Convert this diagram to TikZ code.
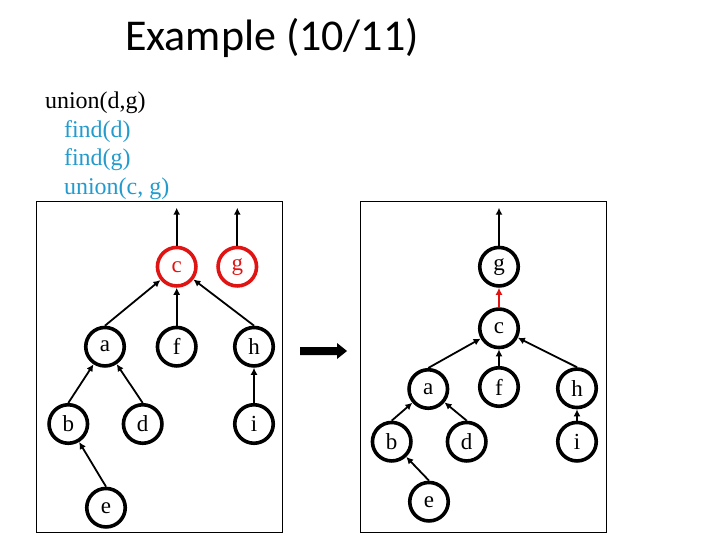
\documentclass[tikz,border=0pt]{standalone}
\usepackage{fontspec}
\setmainfont{Liberation Serif}
\newfontfamily\titlefont{Carlito}
\usetikzlibrary{arrows.meta}
\definecolor{opblue}{RGB}{35,155,205}
\definecolor{rootred}{RGB}{225,20,20}
\begin{document}
\begin{tikzpicture}[x=1pt,y=-1pt,
 vnode/.style={circle,draw=black,line width=3.6pt,fill=white,minimum size=38.5pt,inner sep=0pt,font=\fontsize{23}{26}\selectfont},
 rootnode/.style={vnode,draw=rootred,text=rootred},
 link/.style={line width=1.8pt,-{Latex[length=7pt,width=7pt]}},
 redlink/.style={link,draw=rootred},
 panel/.style={draw=black,line width=0.9pt},
 optext/.style={anchor=base west,font=\fontsize{24}{28}\selectfont}]
\useasboundingbox (0,0) rectangle (720,540);
% title
\node[font=\titlefont\fontsize{44}{50}\selectfont] (title) at (272,38) {Example (10/11)};
% operations
\node[optext] (l1) at (41.5,109) {union(d,g)};
\node[optext,text=opblue] (l2) at (60.5,137.5) {find(d)};
\node[optext,text=opblue] (l3) at (60.5,166) {find(g)};
\node[optext,text=opblue] (l4) at (60.5,194.5) {union(c, g)};
% panels
\draw[panel] (36.7,201) rectangle (282,532);
\draw[panel] (360,201) rectangle (606,532);
% big arrow
\fill (300,347) -- (337,347) -- (337,343) -- (347,351) -- (337,359) -- (337,355) -- (300,355) -- cycle;
% left forest
\node[rootnode] (lc) at (176.7,266.7) {c};
\node[rootnode] (lg) at (237.3,266.7) {g};
\node[vnode] (la) at (105,346.7) {a};
\node[vnode] (lf) at (176.7,346.7) {f};
\node[vnode] (lh) at (254,346.7) {h};
\node[vnode] (lb) at (68.3,424) {b};
\node[vnode] (ld) at (142.7,424) {d};
\node[vnode] (li) at (254,424) {i};
\node[vnode] (le) at (106,507.7) {e};
\coordinate (lctop) at (176.7,207.7);
\coordinate (lgtop) at (237.3,207.7);
\draw[link] (lc) -- (lctop);
\draw[link] (lg) -- (lgtop);
\draw[link] (la.north) -- (lc);
\draw[link] (lf) -- (lc);
\draw[link] (lh.north) -- (lc);
\draw[link] (lb.north) -- (la);
\draw[link] (ld.north) -- (la);
\draw[link] (le.north) -- (lb);
\draw[link] (li) -- (lh);
% right tree
\node[vnode] (rg) at (499,266.7) {g};
\node[vnode] (rc) at (499,328.3) {c};
\node[vnode] (ra) at (428.3,389) {a};
\node[vnode] (rf) at (499,387) {f};
\node[vnode] (rh) at (577,388.3) {h};
\node[vnode] (rb) at (391.7,441.7) {b};
\node[vnode] (rd) at (466.7,441.7) {d};
\node[vnode] (ri) at (577,441.7) {i};
\node[vnode] (re) at (429,501.7) {e};
\coordinate (rgtop) at (499,207.7);
\draw[link] (rg) -- (rgtop);
\draw[redlink] (rc) -- (rg);
\draw[link] (ra.north) -- (rc);
\draw[link] (rf) -- (rc);
\draw[link] (rh.north) -- (rc);
\draw[link] (rb.north) -- (ra);
\draw[link] (rd.north) -- (ra);
\draw[link] (re.north) -- (rb);
\draw[link] (ri) -- (rh);
\end{tikzpicture}
\end{document}
